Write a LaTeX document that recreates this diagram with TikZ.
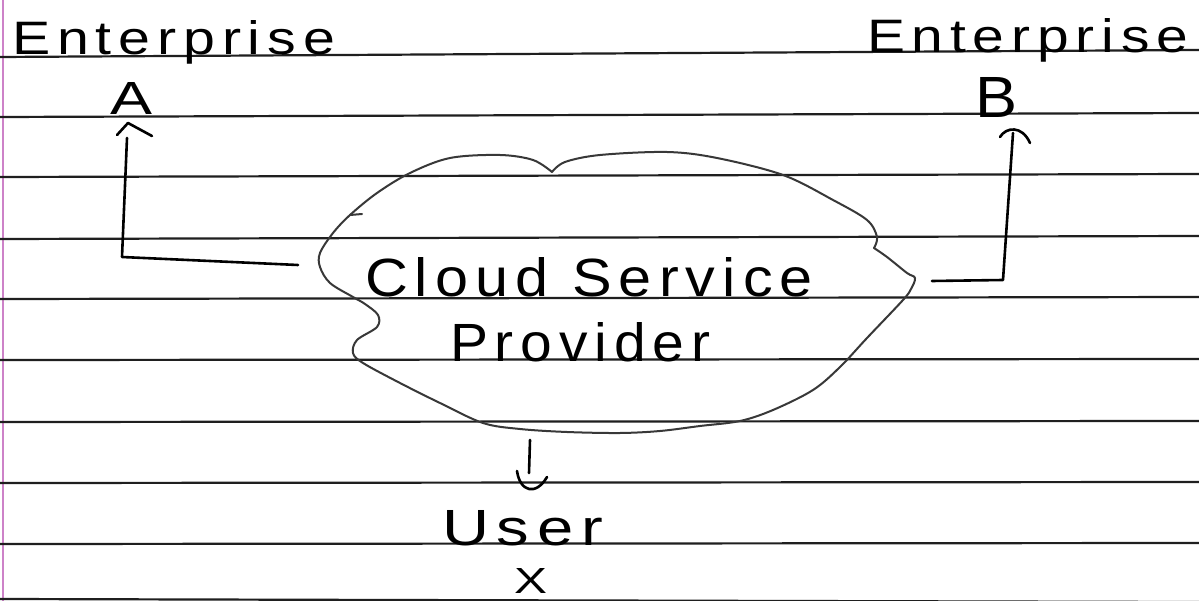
\documentclass[tikz,border=0pt]{standalone}
\usepackage{fontspec}
\usepackage{graphicx}
\newfontfamily\hand[LetterSpace=12]{Liberation Sans}
\newcommand{\hw}[3]{\resizebox{#1}{#2}{\hand #3}}
\begin{document}
\begin{tikzpicture}[x=1pt,y=-1pt,line cap=round,line join=round,
  ruleline/.style={line width=2.2pt,color=black!88},
  marginline/.style={line width=1.6pt,color={rgb,255:red,205;green,130;blue,200}},
  ink/.style={line width=2.6pt,color=black},
  cloudline/.style={line width=2pt,color=black!78},
  lbl/.style={inner sep=0pt,outer sep=0pt,anchor=base west}]
\useasboundingbox (0,0) rectangle (1199,601);
\fill[white] (0,0) rectangle (1199,601);
% ruled paper
\draw[marginline] (3,0) -- (3,601);
\foreach \a/\b in {57/50,117/113,177/174,239/236,299/297,360/359,422/421,483/482,544/543,599/602}
  \draw[ruleline] (0,\a) -- (1199,\b);
% labels
\node[lbl] (entA) at (12,55) {\hw{323pt}{34pt}{Enterprise}};
\node[lbl] (A) at (110,115) {\hw{42pt}{32pt}{A}};
\node[lbl] (entB) at (867,53) {\hw{321pt}{34pt}{Enterprise}};
\node[lbl] (B) at (975,118) {\hw{42pt}{40pt}{B}};
\node[lbl] (csp1) at (365,297) {\hw{448pt}{39pt}{Cloud Service}};
\node[lbl] (csp2) at (450,362) {\hw{260pt}{39pt}{Provider}};
\node[lbl] (user) at (442,545) {\hw{161pt}{35pt}{User}};
\node[lbl] (X) at (514,593) {\hw{33pt}{25pt}{X}};
% cloud
\draw[cloudline] plot[smooth,tension=0.55] coordinates {(552,172) (533,160) (500,155) (450,158) (410,173) (377,193) (350,215) (333,233) (320,253) (320,267) (330,283) (353,297) (365,304) (378,315) (377,327) (357,340) (353,353) (363,363) (400,383) (440,403) (483,423) (520,429) (567,432) (620,433) (660,431) (700,426) (740,421) (773,410) (813,390) (840,367) (867,338) (903,300) (911,289) (915,278) (907,273) (887,257) (874,248)};
\draw[cloudline] plot[smooth,tension=0.55] coordinates {(874,248) (877,237) (867,220) (833,200) (783,175) (717,158) (667,152) (600,155) (565,162) (552,172)};
\draw[cloudline] (350,215) -- (362,214);
% connector anchors
\coordinate (cloudW) at (298,265);
\coordinate (aCorner) at (122,257);
\coordinate (aTail) at (127,138);
\coordinate (aTip) at (128,123);
\coordinate (cloudE) at (932,281);
\coordinate (bCorner) at (1003,280);
\coordinate (bTail) at (1013,133);
\coordinate (cloudS) at (530,440);
\coordinate (uTail) at (529,473);
% connectors
\draw[ink] (cloudW) -- (aCorner) -- (aTail);
\draw[ink] ([shift={(-11,12)}]aTip) -- (aTip) -- ([shift={(24,13)}]aTip);
\draw[ink] (cloudE) -- (bCorner) -- (bTail);
\draw[ink] (1000,137) .. controls (1006,127) and (1022,125) .. (1030,143);
\draw[ink] (cloudS) -- (uTail);
\draw[ink] (517,471) .. controls (520,492) and (536,496) .. (547,477);
\end{tikzpicture}
\end{document}
